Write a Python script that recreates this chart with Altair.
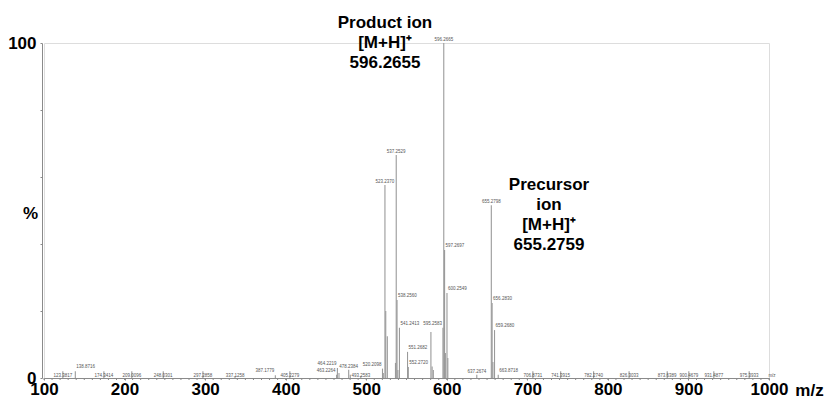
import altair as alt
import pandas as pd

# ---- data ----
label_mz = [123.3817, 138.8716, 174.3414, 209.0096, 248.0301, 297.2858, 337.1258, 387.1779,
            405.2279, 463.2264, 464.2219, 478.2384, 493.2583, 520.2098, 523.2370, 537.2529,
            538.2560, 541.2413, 551.2682, 552.2720, 595.2583, 596.2665, 597.2697, 600.2549,
            637.2674, 655.2798, 656.2830, 659.2680, 663.8718, 706.8731, 741.3915, 782.2740,
            826.3033, 873.6389, 900.4679, 931.4877, 975.3933]
label_int = [2.0, 2.0, 2.0, 2.0, 2.0, 2.0, 0.6, 0.8,
             2.0, 1.0, 3.0, 2.5, 0.6, 2.8, 57.6, 66.6,
             23.3, 15.0, 7.8, 3.3, 15.0, 100.0, 38.2, 25.4,
             1.0, 51.6, 22.4, 14.3, 1.0, 2.0, 2.0, 2.0,
             2.0, 2.0, 2.0, 2.0, 2.0]
label_text = ["123.3817", "138.8716", "174.3414", "209.0096", "248.0301", "297.2858", "337.1258",
              "387.1779", "405.2279", "463.2264", "464.2219", "478.2384", "493.2583", "520.2098",
              "523.2370", "537.2529", "538.2560", "541.2413", "551.2682", "552.2720", "595.2583",
              "596.2665", "597.2697", "600.2549", "637.2674", "655.2798", "656.2830", "659.2680",
              "663.8718", "706.8731", "741.3915", "782.2740", "826.3033", "873.6389", "900.4679",
              "931.4877", "975.3933"]

other_mz = [466.2, 480.2, 521.2, 524.24, 526.2, 536.3, 539.3, 580.3, 581.8, 583.3,
            598.27, 601.3, 657.28]
other_int = [1.5, 1.0, 1.5, 20.0, 12.5, 4.5, 2.4, 13.7, 3.4, 2.4,
             7.5, 6.0, 4.8]

x_label_ticks = list(range(100, 1001, 100))
x_minor_ticks = list(range(100, 1001, 10))
y_ticks = list(range(0, 101, 10))

FONT = "Liberation Sans"

labels = pd.DataFrame({"mz": label_mz, "intensity": label_int, "label": label_text})
others = pd.DataFrame({"mz": other_mz, "intensity": other_int})
peaks = pd.concat([labels[["mz", "intensity"]], others], ignore_index=True)
minor = pd.DataFrame({"mz": x_minor_ticks})
one = pd.DataFrame({"k": [0]})

top_group = {"523.2370", "537.2529", "596.2665", "655.2798", "478.2384", "637.2674"}
right_group = {"138.8716", "538.2560", "541.2413", "551.2682", "552.2720", "597.2697",
               "600.2549", "656.2830", "659.2680", "663.8718"}
left_group = {"595.2583", "520.2098", "464.2219", "463.2264", "387.1779"}
base_group = set(label_text) - top_group - right_group - left_group

xscale = alt.Scale(domain=[100, 1000], nice=False, zero=False)
yscale = alt.Scale(domain=[0, 100], nice=False)

x_axis = alt.Axis(values=x_label_ticks, format="d",
                  tickSize=2, labelPadding=1, labelFlush=False, labelOverlap=False,
                  labelFont=FONT, labelFontSize=17, labelFontWeight="bold",
                  labelColor="black", domainColor="#8a8a8a", tickColor="#8a8a8a",
                  grid=False, title="m/z", titleFont=FONT, titleFontSize=17,
                  titleFontWeight="bold", titleColor="black", titleX=765, titleY=17,
                  titleAlign="center", titleBaseline="alphabetic")
y_axis = alt.Axis(values=y_ticks, format="d",
                  labelExpr="datum.value === 0 || datum.value === 100 ? datum.label : ''",
                  tickSize=2, labelPadding=4, offset=2, labelFlush=False,
                  labelOverlap=False, labelFont=FONT, labelFontSize=17,
                  labelFontWeight="bold", labelColor="black", domainColor="#8a8a8a",
                  tickColor="#8a8a8a", grid=False, title="%", titleAngle=0,
                  titleX=-12, titleY=170, titleAlign="center", titleBaseline="middle",
                  titleFont=FONT, titleFontSize=17, titleFontWeight="bold",
                  titleColor="black")

sticks = alt.Chart(peaks).mark_rule(color="#9a9a9a", strokeWidth=1.1).encode(
    x=alt.X("mz:Q", scale=xscale, axis=x_axis),
    y=alt.Y("intensity:Q", scale=yscale, axis=y_axis),
    y2=alt.datum(0))

minor_ticks = alt.Chart(minor).mark_rule(color="#8a8a8a", strokeWidth=1).encode(
    x="mz:Q", y=alt.value(335), y2=alt.value(337))

def lab(group, **kw):
    d = labels[labels["label"].isin(group)]
    return alt.Chart(d).mark_text(font=FONT, fontSize=4.5, color="#555555", **kw)

t_top = lab(top_group, align="center", baseline="bottom", dy=-1).encode(
    x="mz:Q", y="intensity:Q", text="label:N")
t_right = lab(right_group, align="left", baseline="bottom", dx=1, dy=-2).encode(
    x="mz:Q", y="intensity:Q", text="label:N")
t_left = lab(left_group, align="right", baseline="bottom", dx=-1, dy=-2).encode(
    x="mz:Q", y="intensity:Q", text="label:N")
t_base = lab(base_group, align="center", baseline="bottom", dy=0).encode(
    x="mz:Q", y=alt.value(335), text="label:N")

small_mz = alt.Chart(one).mark_text(font=FONT, fontSize=4.5, color="#555555",
                                    align="center", baseline="bottom").encode(
    x=alt.value(728), y=alt.value(335), text=alt.value("m/z"))

ann_style = dict(font=FONT, fontSize=17, fontWeight="bold", color="black",
                 align="center", baseline="alphabetic", lineBreak="\n", lineHeight=20)
product = alt.Chart(one).mark_text(**ann_style).encode(
    x=alt.value(341), y=alt.value(-15), text=alt.value("Product ion\n[M+H]⁺\n596.2655"))
precursor = alt.Chart(one).mark_text(**ann_style).encode(
    x=alt.value(505), y=alt.value(147), text=alt.value("Precursor\nion\n[M+H]⁺\n655.2759"))

chart = alt.layer(sticks, minor_ticks, t_top, t_right, t_left, t_base, small_mz,
                  product, precursor).properties(
    width=725, height=335,
    autosize=alt.AutoSizeParams(type="none"),
    padding={"left": 44, "top": 43, "right": 57, "bottom": 23},
).configure_view(strokeWidth=0).configure(background="white")

chart.save("out.html", embed_options={"renderer": "svg", "actions": False})
